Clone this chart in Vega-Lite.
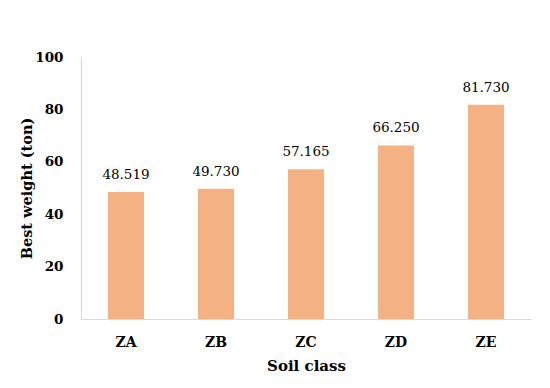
{
  "$schema": "https://vega.github.io/schema/vega-lite/v6.json",
  "width": 450,
  "height": 262,
  "autosize": {"type": "none"},
  "padding": {"left": 81, "top": 57, "right": 19, "bottom": 69},
  "background": "white",
  "config": {
    "view": {"stroke": null},
    "font": "DejaVu Serif",
    "axis": {"labelFont": "DejaVu Serif", "titleFont": "DejaVu Serif"},
    "text": {"font": "DejaVu Serif"}
  },
  "data": {
    "values": [
      {"class": "ZA", "weight": 48.519, "label": "48.519"},
      {"class": "ZB", "weight": 49.73, "label": "49.730"},
      {"class": "ZC", "weight": 57.165, "label": "57.165"},
      {"class": "ZD", "weight": 66.25, "label": "66.250"},
      {"class": "ZE", "weight": 81.73, "label": "81.730"}
    ]
  },
  "encoding": {
    "x": {
      "field": "class",
      "type": "nominal",
      "sort": null,
      "scale": {"paddingInner": 0.6, "paddingOuter": 0.3},
      "axis": {
        "title": "Soil class",
        "titleFontSize": 15,
        "titleFontWeight": "bold",
        "titleColor": "#000",
        "titlePadding": 9,
        "labelAngle": 0,
        "labelFontSize": 14,
        "labelFontWeight": "bold",
        "labelColor": "#000",
        "labelPadding": 16,
        "ticks": false,
        "domainColor": "#d9d9d9",
        "domainWidth": 1.2
      }
    },
    "y": {
      "field": "weight",
      "type": "quantitative",
      "scale": {"domain": [0, 100]},
      "axis": {
        "title": "Best weight  (ton)",
        "titleFontSize": 14.5,
        "titleFontWeight": "bold",
        "titleColor": "#000",
        "titlePadding": 0,
        "values": [0, 20, 40, 60, 80, 100],
        "labelFontSize": 13.5,
        "labelFontWeight": "bold",
        "labelColor": "#000",
        "labelPadding": 18,
        "ticks": false,
        "grid": false,
        "domainColor": "#d9d9d9",
        "domainWidth": 1.2
      }
    }
  },
  "layer": [
    {"mark": {"type": "bar", "color": "#F4B183"}},
    {
      "mark": {"type": "text", "baseline": "bottom", "dy": -10, "fontSize": 13.5, "color": "#000", "font": "DejaVu Serif"},
      "encoding": {"text": {"field": "label"}}
    }
  ]
}
